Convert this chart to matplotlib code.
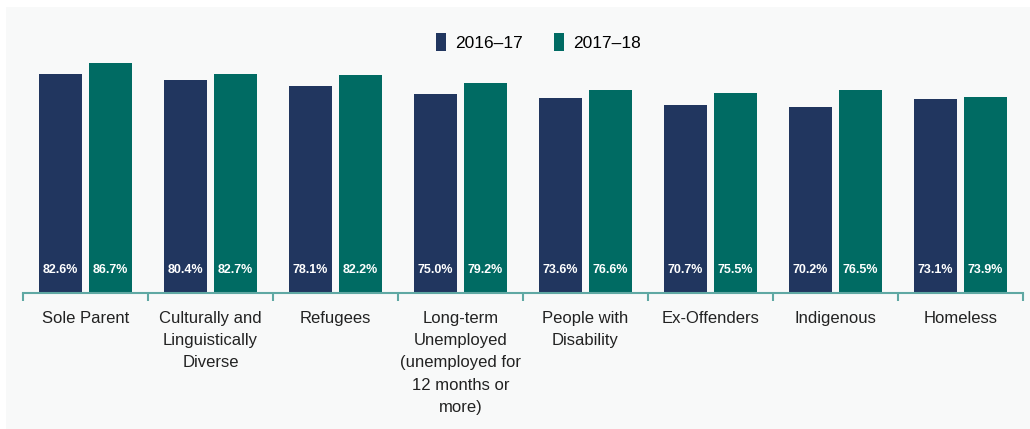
import numpy as np
import matplotlib
matplotlib.use("Agg")
import matplotlib.pyplot as plt
from matplotlib.patches import Rectangle

plt.rcParams['font.family'] = ['Liberation Sans', 'DejaVu Sans']

categories = ["Sole Parent", "Culturally and\nLinguistically\nDiverse", "Refugees",
              "Long-term\nUnemployed\n(unemployed for\n12 months or\nmore)",
              "People with\nDisability", "Ex-Offenders", "Indigenous", "Homeless"]
series_names = ["2016\u201317", "2017\u201318"]
values_1617 = [82.6, 80.4, 78.1, 75.0, 73.6, 70.7, 70.2, 73.1]
values_1718 = [86.7, 82.7, 82.2, 79.2, 76.6, 75.5, 76.5, 73.9]

navy = "#21365F"
teal = "#006B63"
axis_col = "#5FA8A3"

fig = plt.figure(figsize=(10.3, 4.29), dpi=100)
fig.patch.set_facecolor("white")
# light panel behind the chart
fig.add_artist(Rectangle((6 / 1030, 0), 1, 1 - 7 / 429, transform=fig.transFigure,
                         facecolor="#F8F9F9", edgecolor="none", zorder=0))

ax = fig.add_axes([23 / 1030, 136 / 429, 1000 / 1030, 265.3 / 429])
ax.set_facecolor("none")

x = np.arange(len(categories))
w = 0.34
off = 0.2
b1 = ax.bar(x - off, values_1617, w, color=navy, label=series_names[0])
b2 = ax.bar(x + off, values_1718, w, color=teal, label=series_names[1])

for bars, vals in ((b1, values_1617), (b2, values_1718)):
    for b, v in zip(bars, vals):
        ax.text(b.get_x() + b.get_width() / 2, 8.7, "%.1f%%" % v, ha="center", va="center",
                color="white", fontsize=9, fontweight="bold")

ax.set_xlim(-0.5, len(categories) - 0.5)
ax.set_ylim(0, 100)
ax.set_yticks([])
for s in ["top", "right", "left"]:
    ax.spines[s].set_visible(False)
ax.spines["bottom"].set_color(axis_col)
ax.spines["bottom"].set_linewidth(1.5)

ax.set_xticks(x)
ax.set_xticklabels(categories, fontsize=12, color="#222222", linespacing=1.6)
ax.tick_params(axis="x", which="major", length=0, pad=13)
ax.set_xticks(np.arange(-0.5, len(categories)), minor=True)
ax.tick_params(axis="x", which="minor", length=6, width=1.5, color=axis_col)

fig.legend(loc="center", bbox_to_anchor=(538 / 1030, 1 - 42 / 429), ncol=2, frameon=False,
           fontsize=12.5, handlelength=0.6, handleheight=1.3, columnspacing=1.8, handletextpad=0.5)

fig.savefig("out.png", dpi=100)
